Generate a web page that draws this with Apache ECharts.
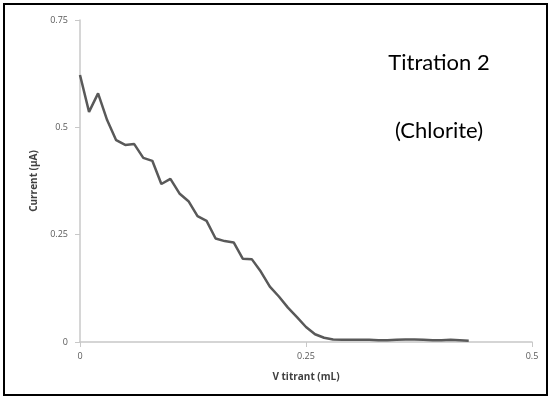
<!DOCTYPE html>
<html>
<head>
<meta charset="utf-8">
<script src="https://cdn.jsdelivr.net/npm/echarts@6/dist/echarts.min.js"></script>
<style>html,body{margin:0;padding:0;background:#fff;}#c{width:551px;height:398px;}</style>
</head>
<body>
<div id="c"></div>
<script>
const vTitrant = [0,0.01,0.02,0.03,0.04,0.05,0.06,0.07,0.08,0.09,0.10,0.11,0.12,0.13,0.14,0.15,0.16,0.17,0.18,0.19,0.20,0.21,0.22,0.23,0.24,0.25,0.26,0.27,0.28,0.29,0.30,0.31,0.32,0.33,0.34,0.35,0.36,0.37,0.38,0.39,0.40,0.41,0.42,0.43];
const current = [0.622,0.536,0.579,0.517,0.470,0.459,0.461,0.429,0.422,0.368,0.380,0.346,0.328,0.293,0.282,0.241,0.235,0.232,0.194,0.193,0.164,0.129,0.106,0.080,0.058,0.035,0.018,0.010,0.006,0.005,0.005,0.005,0.005,0.004,0.004,0.005,0.006,0.006,0.005,0.004,0.004,0.005,0.004,0.003];
const xTicks = [0, 0.25, 0.5];
const yTicks = [0, 0.25, 0.5, 0.75];
const titleLines = ['Titration 2', '(Chlorite)'];
const xName = 'V titrant (mL)';
const yName = 'Current (µA)';

const chart = echarts.init(document.getElementById('c'), null, {renderer:'canvas'});
const data = vTitrant.map((x,i)=>[x,current[i]]);
const fmt = v => String(v);
chart.setOption({
  animation:false,
  backgroundColor:'#fff',
  grid:{left:80,right:19,top:20,bottom:56},
  xAxis:{type:'value',min:xTicks[0],max:xTicks[xTicks.length-1],interval:0.25,
    name:xName,nameLocation:'middle',nameGap:30,
    nameTextStyle:{fontFamily:'Open Sans',fontWeight:'bold',fontSize:10,color:'#404040'},
    axisLine:{show:true,lineStyle:{color:'#c8c8c8',width:1.5}},
    axisTick:{show:true,length:5,lineStyle:{color:'#c8c8c8'}},
    axisLabel:{fontFamily:'Open Sans',fontSize:9,color:'#595959',margin:10,formatter:fmt},
    splitLine:{show:false}},
  yAxis:{type:'value',min:yTicks[0],max:yTicks[yTicks.length-1],interval:0.25,
    name:yName,nameLocation:'middle',nameGap:38,nameRotate:90,
    nameTextStyle:{fontFamily:'Open Sans',fontWeight:'bold',fontSize:10,color:'#404040'},
    axisLine:{show:true,lineStyle:{color:'#c8c8c8',width:1.5}},
    axisTick:{show:true,length:5,lineStyle:{color:'#c8c8c8'}},
    axisLabel:{fontFamily:'Open Sans',fontSize:9,color:'#595959',margin:12,formatter:fmt},
    splitLine:{show:false}},
  series:[{type:'line',data:data,showSymbol:false,symbol:'none',
    lineStyle:{color:'#595959',width:2.5},z:3}],
  graphic:[
    {type:'rect',shape:{x:4,y:4,width:543,height:391},style:{fill:'none',stroke:'#000',lineWidth:2},silent:true},
    {type:'text',x:439,y:63,style:{text:titleLines[0],font:'22px Lato',fill:'#000',textAlign:'center',textVerticalAlign:'middle'}},
    {type:'text',x:439,y:131,style:{text:titleLines[1],font:'22px Lato',fill:'#000',textAlign:'center',textVerticalAlign:'middle'}}
  ]
});
</script>
</body>
</html>
